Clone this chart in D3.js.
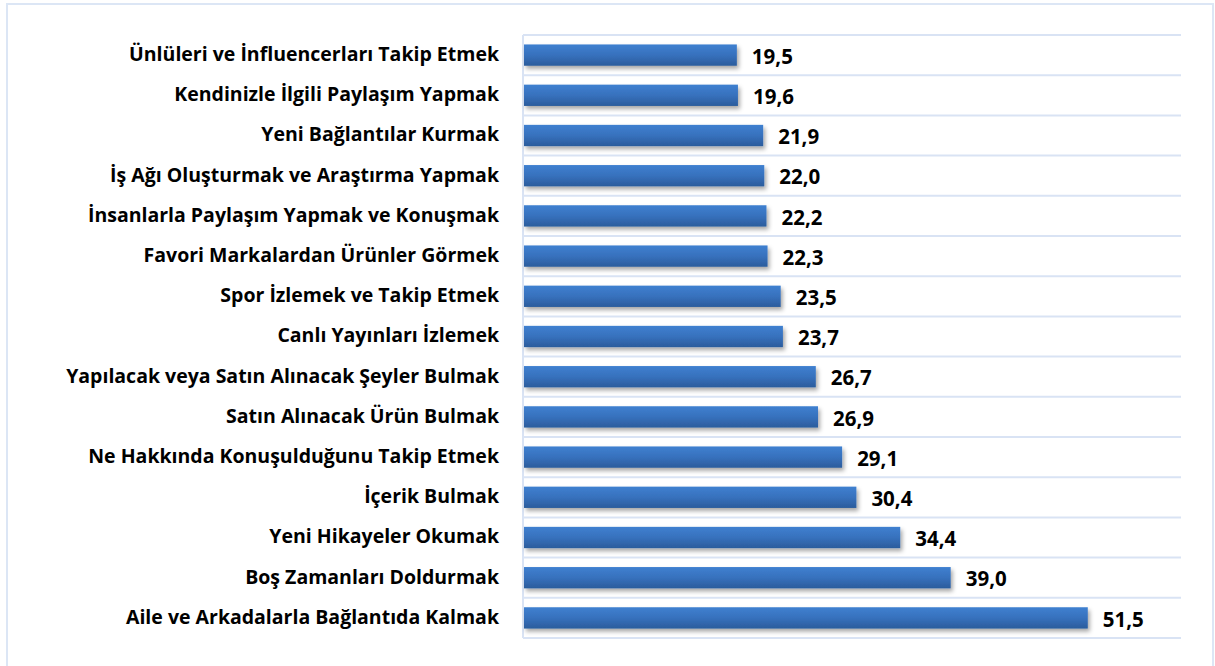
<!DOCTYPE html>
<html>
<head>
<meta charset="utf-8">
<script src="https://cdn.jsdelivr.net/npm/d3@7"></script>
<style>
  body { margin: 0; background: #fff; }
  #chart text { font-family: "Open Sans", "Noto Sans", sans-serif; font-weight: 700; fill: #000; }
</style>
</head>
<body>
<div id="chart"></div>
<script>
// Categories, top to bottom
var categories = [
    "Ünlüleri ve İnfluencerları Takip Etmek",
    "Kendinizle İlgili Paylaşım Yapmak",
    "Yeni Bağlantılar Kurmak",
    "İş Ağı Oluşturmak ve Araştırma Yapmak",
    "İnsanlarla Paylaşım Yapmak ve Konuşmak",
    "Favori Markalardan Ürünler Görmek",
    "Spor İzlemek ve Takip Etmek",
    "Canlı Yayınları İzlemek",
    "Yapılacak veya Satın Alınacak Şeyler Bulmak",
    "Satın Alınacak Ürün Bulmak",
    "Ne Hakkında Konuşulduğunu Takip Etmek",
    "İçerik Bulmak",
    "Yeni Hikayeler Okumak",
    "Boş Zamanları Doldurmak",
    "Aile ve Arkadalarla Bağlantıda Kalmak"
];
var values = [19.5, 19.6, 21.9, 22.0, 22.2, 22.3, 23.5, 23.7, 26.7, 26.9, 29.1, 30.4, 34.4, 39.0, 51.5];
var xDomain = [0, 60];

function createBarChart() {
    var width = 1215, height = 666;
    var margin = { top: 35, right: 34, bottom: 28, left: 523 };
    var innerW = width - margin.left - margin.right;
    var innerH = height - margin.top - margin.bottom;

    var svg = d3.select("#chart").append("svg")
        .attr("width", width)
        .attr("height", height);

    // chart frame
    svg.append("rect")
        .attr("x", 7).attr("y", 4)
        .attr("width", 1206).attr("height", 680)
        .attr("fill", "none")
        .attr("stroke", "#dce6f5")
        .attr("stroke-width", 2);

    var defs = svg.append("defs");
    var grad = defs.append("linearGradient")
        .attr("id", "barGrad")
        .attr("x1", 0).attr("y1", 0).attr("x2", 0).attr("y2", 1);
    grad.append("stop").attr("offset", "0%").attr("stop-color", "#3f80d0");
    grad.append("stop").attr("offset", "50%").attr("stop-color", "#3771bd");
    grad.append("stop").attr("offset", "100%").attr("stop-color", "#2b5c9c");

    var shadow = defs.append("filter").attr("id", "shadow")
        .attr("x", "-5%").attr("y", "-30%").attr("width", "115%").attr("height", "180%");
    shadow.append("feDropShadow")
        .attr("dx", 2).attr("dy", 3).attr("stdDeviation", 2)
        .attr("flood-color", "#000").attr("flood-opacity", 0.35);

    var g = svg.append("g")
        .attr("transform", "translate(" + margin.left + "," + margin.top + ")");

    var x = d3.scaleLinear().domain(xDomain).range([0, innerW]);
    var y = d3.scaleBand().domain(categories).range([0, innerH]).paddingInner(0.47).paddingOuter(0.235);

    // horizontal gridlines between categories
    var gridY = d3.range(categories.length + 1).map(function (i) { return i * innerH / categories.length; });
    g.selectAll(".grid")
        .data(gridY)
        .enter().append("line")
        .attr("class", "grid")
        .attr("x1", 0).attr("x2", innerW)
        .attr("y1", function (d) { return d; }).attr("y2", function (d) { return d; })
        .attr("stroke", "#d9e3f4")
        .attr("stroke-width", 2);

    // vertical axis line
    g.append("line")
        .attr("x1", 0).attr("x2", 0)
        .attr("y1", 0).attr("y2", innerH)
        .attr("stroke", "#d9e3f4")
        .attr("stroke-width", 2);

    // bars
    g.selectAll(".bar")
        .data(values)
        .enter().append("rect")
        .attr("class", "bar")
        .attr("x", 1)
        .attr("y", function (d, i) { return y(categories[i]); })
        .attr("width", function (d) { return x(d) - 1; })
        .attr("height", y.bandwidth())
        .attr("fill", "url(#barGrad)")
        .attr("filter", "url(#shadow)");

    // value labels
    g.selectAll(".val")
        .data(values)
        .enter().append("text")
        .attr("class", "val")
        .attr("x", function (d) { return x(d) + 15; })
        .attr("y", function (d, i) { return y(categories[i]) + y.bandwidth() / 2; })
        .attr("dy", "0.42em")
        .style("font-size", "20.5px")
        .text(function (d) { return d3.format(".1f")(d).replace(".", ","); });

    // category labels
    var yAxis = g.append("g")
        .call(d3.axisLeft(y).tickSize(0).tickPadding(24));
    yAxis.select(".domain").remove();
    yAxis.selectAll("text")
        .style("font-size", "19.5px")
        .attr("dy", "0.3em");
}

createBarChart();
</script>
</body>
</html>
